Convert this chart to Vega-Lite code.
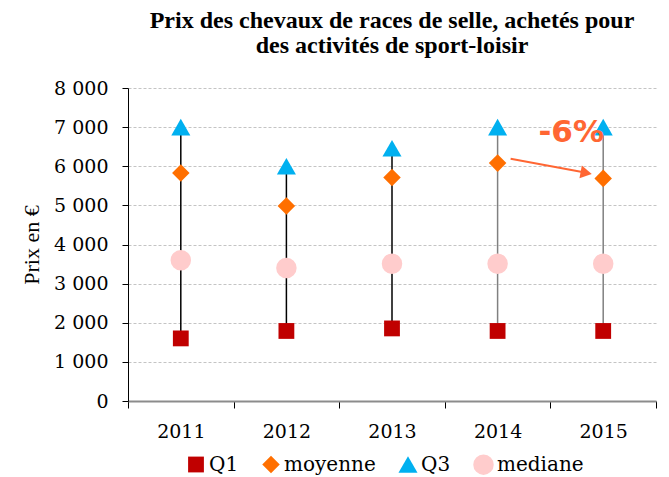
{
  "$schema": "https://vega.github.io/schema/vega-lite/v6.json",
  "width": 528,
  "height": 313,
  "autosize": {"type": "none"},
  "padding": {"left": 128, "top": 88, "right": 13, "bottom": 76},
  "background": "white",
  "title": {
    "text": ["Prix des chevaux de races de selle, achetés pour", "des activités de sport-loisir"],
    "font": "Liberation Serif",
    "fontSize": 24,
    "fontWeight": "bold",
    "color": "#000000",
    "anchor": "middle",
    "offset": 21,
    "lineHeight": 25
  },
  "datasets": {
    "stats": [
      {"year": "2011", "Q1": 1600, "moyenne": 5830, "Q3": 7000, "mediane": 3600},
      {"year": "2012", "Q1": 1790, "moyenne": 4985, "Q3": 6000, "mediane": 3400},
      {"year": "2013", "Q1": 1855, "moyenne": 5715, "Q3": 6460, "mediane": 3510},
      {"year": "2014", "Q1": 1790, "moyenne": 6080, "Q3": 7000, "mediane": 3510},
      {"year": "2015", "Q1": 1790, "moyenne": 5690, "Q3": 7000, "mediane": 3510}
    ],
    "arrow": [
      {"year": "2014", "year2": "2015", "value": 6190, "end": 5855}
    ],
    "arrowhead": [
      {"year": "2015", "value": 5828}
    ],
    "note": [
      {"year": "2015", "value": 6850, "label": "-6%"}
    ]
  },
  "config": {
    "view": {"stroke": null},
    "axis": {"titleFontSize": 22, "titleFont": "Liberation Serif", "titleFontWeight": "normal"},
    "axisY": {"titleFontSize": 22, "titleFont": "Liberation Serif", "titleFontWeight": "normal", "titleColor": "#000000"},
    "legend": {
      "orient": "none",
      "legendX": 58,
      "legendY": 366,
      "direction": "horizontal",
      "labelFont": "DejaVu Serif",
      "labelFontSize": 20,
      "labelColor": "#000000",
      "symbolSize": 150,
      "columnPadding": 22,
      "labelOffset": 3,
      "symbolStrokeWidth": 0
    }
  },
  "encoding": {
    "x": {
      "field": "year",
      "type": "nominal",
      "scale": {"paddingInner": 0, "paddingOuter": 0},
      "axis": {
        "title": null,
        "tickBand": "extent",
        "labelFont": "DejaVu Serif",
        "labelFontSize": 19,
        "labelColor": "#000000",
        "labelPadding": 14,
        "labelAngle": 0,
        "tickColor": "#000000",
        "tickSize": 7,
        "domainColor": "#8c8c8c",
        "domainWidth": 2,
        "grid": false
      }
    },
    "y": {
      "field": "value",
      "type": "quantitative",
      "scale": {"domain": [0, 8000], "nice": false},
      "axis": {
        "title": "Prix en €",
        "titleFont": "Liberation Serif",
        "titleFontSize": 22,
        "titleFontWeight": "normal",
        "titleColor": "#000000",
        "titlePadding": 10,
        "labelFont": "DejaVu Serif",
        "labelFontSize": 19,
        "labelColor": "#000000",
        "labelPadding": 14,
        "labelOverlap": false,
        "tickSize": 6,
        "tickColor": "#000000",
        "domainColor": "#000000",
        "grid": true,
        "gridColor": "#c4c4c4",
        "gridDash": [3, 2],
        "values": [0, 1000, 2000, 3000, 4000, 5000, 6000, 7000, 8000],
        "labelExpr": "replace(format(datum.value, ','), ',', ' ')"
      }
    }
  },
  "layer": [
    {
      "data": {"name": "stats"},
      "transform": [{"fold": ["Q1", "Q3"], "as": ["series", "value"]}],
      "mark": {"type": "line", "strokeWidth": 1.5},
      "encoding": {
        "detail": {"field": "year", "type": "nominal"},
        "order": {"field": "value", "type": "quantitative"},
        "color": {
          "condition": {"test": "datum.year >= '2014'", "value": "#808080"},
          "value": "#000000"
        }
      }
    },
    {
      "data": {"name": "stats"},
      "transform": [{"fold": ["Q1", "moyenne", "Q3", "mediane"], "as": ["series", "value"]}],
      "mark": {"type": "point", "filled": true, "opacity": 1, "strokeWidth": 0},
      "encoding": {
        "color": {
          "field": "series",
          "type": "nominal",
          "scale": {
            "domain": ["Q1", "moyenne", "Q3", "mediane"],
            "range": ["#C00000", "#FF6F00", "#00B0F0", "#FFCCCC"]
          },
          "legend": {"title": null, "encode": {"symbols": {"update": {"size": {"value": 150}}}}}
        },
        "shape": {
          "field": "series",
          "type": "nominal",
          "scale": {
            "domain": ["Q1", "moyenne", "Q3", "mediane"],
            "range": ["square", "diamond", "triangle-up", "circle"]
          },
          "legend": {"title": null, "encode": {"symbols": {"update": {"size": {"value": 150}}}}}
        },
        "size": {
          "field": "series",
          "type": "nominal",
          "scale": {
            "domain": ["Q1", "moyenne", "Q3", "mediane"],
            "range": [250, 420, 440, 200]
          },
          "legend": null
        }
      }
    },
    {
      "data": {"name": "arrow"},
      "mark": {"type": "rule", "color": "#FF6633", "strokeWidth": 2, "xOffset": 13, "x2Offset": -21},
      "encoding": {
        "x2": {"field": "year2"},
        "y2": {"field": "end"}
      }
    },
    {
      "data": {"name": "arrowhead"},
      "mark": {"type": "point", "shape": "triangle-right", "filled": true, "opacity": 1, "color": "#FF6633", "size": 170, "angle": 10.6, "xOffset": -17, "strokeWidth": 0},
      "encoding": {}
    },
    {
      "data": {"name": "note"},
      "mark": {"type": "text", "font": "DejaVu Sans", "fontWeight": "bold", "fontSize": 31, "color": "#FF6633", "dx": -32, "align": "center", "baseline": "middle"},
      "encoding": {
        "text": {"field": "label"}
      }
    }
  ]
}
